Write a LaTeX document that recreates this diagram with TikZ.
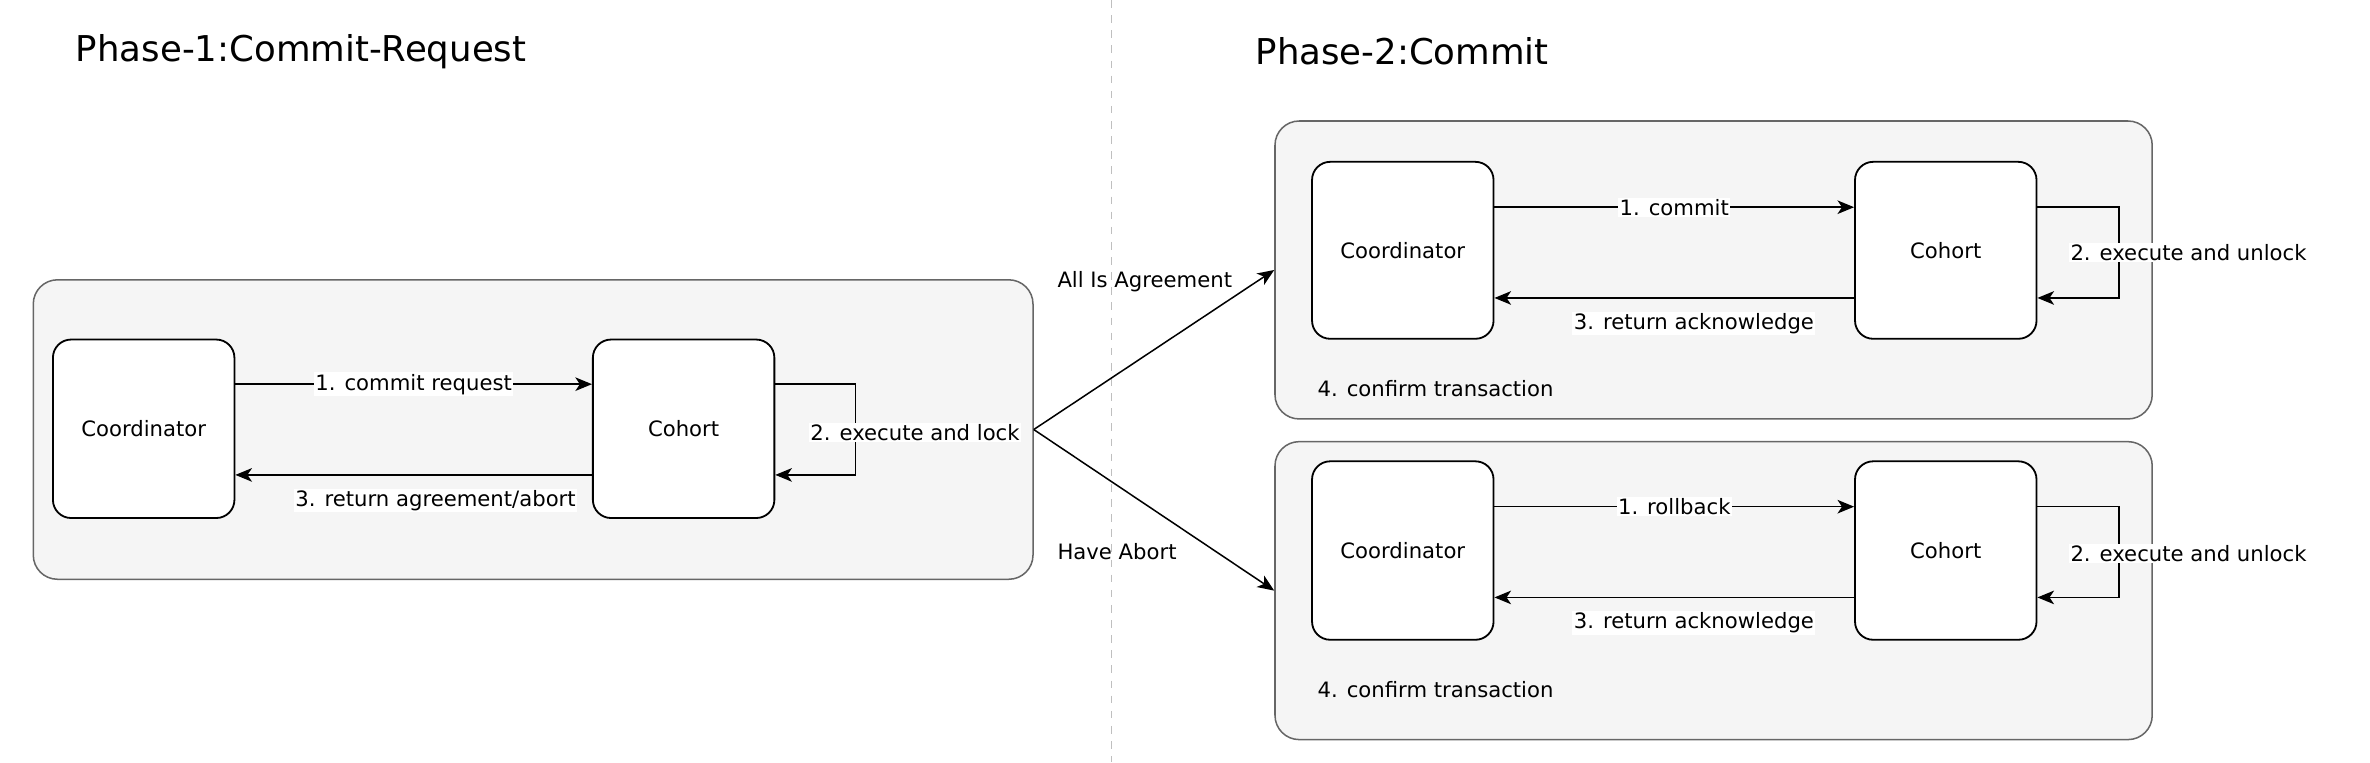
\documentclass[tikz,border=0pt]{standalone}
\usepackage{fontspec}
\setmainfont{DejaVu Sans}
\usetikzlibrary{arrows.meta, positioning}

\begin{document}
\begin{tikzpicture}[
    x=1pt, y=-1pt,
    phase/.style={rectangle, draw=black!60, fill=black!4, line width=1pt, rounded corners=16pt},
    party/.style={rectangle, draw=black, fill=white, line width=1.2pt, rounded corners=12pt, minimum width=120pt, minimum height=118pt, font=\fontsize{14}{17}\selectfont},
    title/.style={anchor=west, inner sep=0pt, font=\fontsize{23.5}{28}\selectfont},
    lbl/.style={fill=white, inner sep=1pt, font=\fontsize{14}{17}\selectfont},
    note/.style={anchor=west, inner sep=0pt, font=\fontsize{14}{17}\selectfont},
    arrow/.style={-{Stealth[length=11pt, width=9pt, inset=3pt]}, line width=1pt},
    divider/.style={draw=black!25, dash pattern=on 5pt off 5pt, line width=0.8pt}
]
\useasboundingbox (0,0) rectangle (1567,504);

% titles and divider
\coordinate (divtop) at (735,0);
\coordinate (divbot) at (735,504);
\draw[divider] (divtop) -- (divbot);
\node[title] (titleA) at (50,34) {Phase-1:Commit-Request};
\node[title] (titleB) at (830,34) {Phase-2:Commit};

% phase 1
\node[phase, minimum width=661pt, minimum height=198pt] (reqbox) at (352.5,284) {};
\node[party] (coordA) at (95,283.5) {Coordinator};
\node[party, right=235.8pt of coordA] (cohortA) {Cohort};

\draw[arrow] ([yshift=29.5pt]coordA.east) -- ([yshift=29.5pt]cohortA.west) node[lbl, midway] {1. commit request};
\draw[arrow] ([yshift=-30.5pt]cohortA.west) -- ([yshift=-30.5pt]coordA.east);
\draw[arrow] ([yshift=29.5pt]cohortA.east) -- ++(53,0) |- ([yshift=-30.5pt]cohortA.east);
\node[lbl] (retA) at (288,331) {3. return agreement/abort};
\node[lbl] (execA) at (605,286) {2. execute and lock};

% phase 2, commit
\node[phase, minimum width=580pt, minimum height=197pt] (okbox) at (1133,178.5) {};
\node[party, minimum height=117pt] (coordB) at (927.5,165.5) {Coordinator};
\node[party, minimum height=117pt, right=237.8pt of coordB] (cohortB) {Cohort};

\draw[arrow] ([yshift=28.5pt]coordB.east) -- ([yshift=28.5pt]cohortB.west) node[lbl, midway] {1. commit};
\draw[arrow] ([yshift=-31.5pt]cohortB.west) -- ([yshift=-31.5pt]coordB.east);
\draw[arrow] ([yshift=28.5pt]cohortB.east) -- ++(54,0) |- ([yshift=-31.5pt]cohortB.east);
\node[lbl] (retB) at (1120,214) {3. return acknowledge};
\node[lbl] (execB) at (1447,167) {2. execute and unlock};
\node[note] (confB) at (871,257) {4. confirm transaction};

% phase 2, rollback
\node[phase, minimum width=580pt, minimum height=197pt] (abortbox) at (1133,390.5) {};
\node[party] (coordC) at (927.5,364) {Coordinator};
\node[party, right=237.8pt of coordC] (cohortC) {Cohort};

\draw[arrow] ([yshift=29pt]coordC.east) -- ([yshift=29pt]cohortC.west) node[lbl, midway] {1. rollback};
\draw[arrow] ([yshift=-31pt]cohortC.west) -- ([yshift=-31pt]coordC.east);
\draw[arrow] ([yshift=29pt]cohortC.east) -- ++(54,0) |- ([yshift=-31pt]cohortC.east);
\node[lbl] (retC) at (1120,412) {3. return acknowledge};
\node[lbl] (execC) at (1447,366) {2. execute and unlock};
\node[note] (confC) at (871,456) {4. confirm transaction};

% fork
\draw[arrow] (reqbox.east) -- (okbox.west);
\draw[arrow] (reqbox.east) -- (abortbox.west);
\node[note] (agreeLbl) at (699,186) {All Is Agreement};
\node[note] (abortLbl) at (699,365) {Have Abort};

\end{tikzpicture}
\end{document}
